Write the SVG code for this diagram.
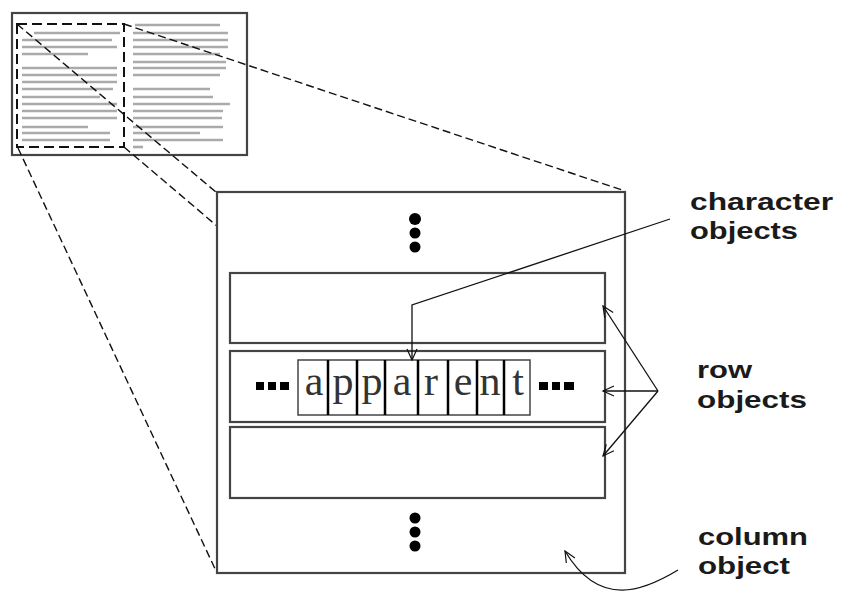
<svg xmlns="http://www.w3.org/2000/svg" width="847" height="606" viewBox="0 0 847 606">
<style>
.frame{fill:none;stroke:#444;stroke-width:2.2}
.dash{fill:none;stroke:#111;stroke-width:1.4;stroke-dasharray:8 4}
.idash{fill:none;stroke:#111;stroke-width:2;stroke-dasharray:10 5}
.gl{stroke:#aaa;stroke-width:2.6}
.lbl{font-family:"Liberation Sans",Arial,sans-serif;font-weight:bold;font-size:24px;fill:#1a1a1a}
.ch{font-family:"Liberation Serif","Times New Roman",serif;font-size:42px;fill:#333;text-anchor:middle}
.conn{fill:none;stroke:#111;stroke-width:1.3}
.dot{fill:#000}
</style>
<defs>
<marker id="arr" markerWidth="14" markerHeight="12" refX="12" refY="6" orient="auto" markerUnits="userSpaceOnUse">
<path d="M1,1 L12,6 L1,11" fill="none" stroke="#111" stroke-width="1.2"/>
</marker>
</defs>

<g id="page">
<rect x="12" y="13" width="235" height="142" class="frame"/>
<g class="gl">
<line x1="135" y1="25" x2="220" y2="25"/>
<line x1="34" y1="33" x2="120" y2="33"/><line x1="133" y1="33" x2="228" y2="33"/>
<line x1="22" y1="40" x2="112" y2="40"/><line x1="133" y1="40" x2="228" y2="40"/>
<line x1="22" y1="47" x2="117" y2="47"/><line x1="133" y1="47" x2="228" y2="47"/>
<line x1="22" y1="54" x2="88" y2="54"/><line x1="133" y1="54" x2="220" y2="54"/>
<line x1="133" y1="62" x2="226" y2="62"/>
<line x1="22" y1="68" x2="117" y2="68"/><line x1="133" y1="68" x2="226" y2="68"/>
<line x1="22" y1="75" x2="117" y2="75"/><line x1="133" y1="75" x2="220" y2="75"/>
<line x1="22" y1="82" x2="117" y2="82"/>
<line x1="22" y1="89" x2="113" y2="89"/><line x1="133" y1="89" x2="210" y2="89"/>
<line x1="22" y1="97" x2="100" y2="97"/><line x1="133" y1="97" x2="213" y2="97"/>
<line x1="22" y1="104" x2="117" y2="104"/><line x1="133" y1="104" x2="230" y2="104"/>
<line x1="22" y1="111" x2="117" y2="111"/><line x1="133" y1="111" x2="223" y2="111"/>
<line x1="22" y1="118" x2="117" y2="118"/><line x1="133" y1="118" x2="222" y2="118"/>
<line x1="22" y1="127" x2="88" y2="127"/><line x1="133" y1="127" x2="223" y2="127"/>
<line x1="22" y1="133" x2="110" y2="133"/><line x1="133" y1="133" x2="200" y2="133"/>
<line x1="22" y1="140" x2="110" y2="140"/><line x1="133" y1="140" x2="223" y2="140"/>
<line x1="133" y1="147" x2="143" y2="147"/>
</g>
<rect x="17" y="24" width="107" height="123" class="idash"/>
</g>

<g id="projection">
<line x1="17" y1="24" x2="217" y2="193" class="dash"/>
<line x1="124" y1="24" x2="625" y2="191" class="dash"/>
<line x1="18" y1="148" x2="217" y2="573" class="dash"/>
<line x1="124" y1="147" x2="217" y2="226" class="dash"/>
</g>

<g id="column">
<rect x="217" y="192" width="408" height="381" class="frame"/>
<circle cx="415" cy="219" r="6" class="dot"/>
<circle cx="415" cy="233" r="5.5" class="dot"/>
<circle cx="415" cy="247" r="5.5" class="dot"/>
<circle cx="415" cy="518" r="5.5" class="dot"/>
<circle cx="415" cy="532" r="5.5" class="dot"/>
<circle cx="415" cy="546" r="5.5" class="dot"/>
</g>

<g id="row1"><rect x="230" y="273" width="375" height="70" class="frame"/></g>
<g id="row2">
<rect x="230" y="351" width="375" height="71" class="frame"/>
<rect x="256" y="382" width="8" height="8" class="dot"/>
<rect x="268" y="382" width="8" height="8" class="dot"/>
<rect x="280" y="382" width="9" height="8" class="dot"/>
<rect x="539" y="382" width="9" height="8" class="dot"/>
<rect x="552" y="382" width="8" height="8" class="dot"/>
<rect x="564" y="382" width="10" height="8" class="dot"/>
</g>
<g id="row3"><rect x="230" y="427" width="375" height="71" class="frame"/></g>

<g id="chars">
<rect x="298" y="360" width="232" height="55" fill="none" stroke="#444" stroke-width="1.5"/>
<text x="314" y="395" class="ch">a</text>
<text x="343" y="395" class="ch">p</text>
<text x="372" y="395" class="ch">p</text>
<text x="402" y="395" class="ch">a</text>
<text x="431" y="395" class="ch">r</text>
<text x="463" y="395" class="ch">e</text>
<text x="490" y="395" class="ch">n</text>
<text x="518" y="395" class="ch">t</text>
<g stroke="#000" stroke-width="2.5">
<line x1="328" y1="360" x2="328" y2="415"/>
<line x1="357" y1="360" x2="357" y2="415"/>
<line x1="385" y1="360" x2="385" y2="415"/>
<line x1="418" y1="360" x2="418" y2="415"/>
<line x1="448" y1="360" x2="448" y2="415"/>
<line x1="477" y1="360" x2="477" y2="415"/>
<line x1="504" y1="360" x2="504" y2="415"/>
</g>
</g>

<g id="connectors">
<polyline points="670,219 412,305 412,360" class="conn" marker-end="url(#arr)"/>
<line x1="658" y1="391" x2="603" y2="306" class="conn" marker-end="url(#arr)"/>
<line x1="658" y1="391" x2="603" y2="391" class="conn" marker-end="url(#arr)"/>
<line x1="658" y1="391" x2="603" y2="456" class="conn" marker-end="url(#arr)"/>
<path d="M678,570 C645,590 600,610 565,551" class="conn" marker-end="url(#arr)"/>
</g>

<g id="labels">
<text x="690" y="210" class="lbl" textLength="143" lengthAdjust="spacingAndGlyphs">character</text>
<text x="690" y="239" class="lbl" textLength="108" lengthAdjust="spacingAndGlyphs">objects</text>
<text x="697" y="378" class="lbl" textLength="55" lengthAdjust="spacingAndGlyphs">row</text>
<text x="697" y="408" class="lbl" textLength="110" lengthAdjust="spacingAndGlyphs">objects</text>
<text x="698" y="545" class="lbl" textLength="110" lengthAdjust="spacingAndGlyphs">column</text>
<text x="698" y="574" class="lbl" textLength="92" lengthAdjust="spacingAndGlyphs">object</text>
</g>
</svg>
